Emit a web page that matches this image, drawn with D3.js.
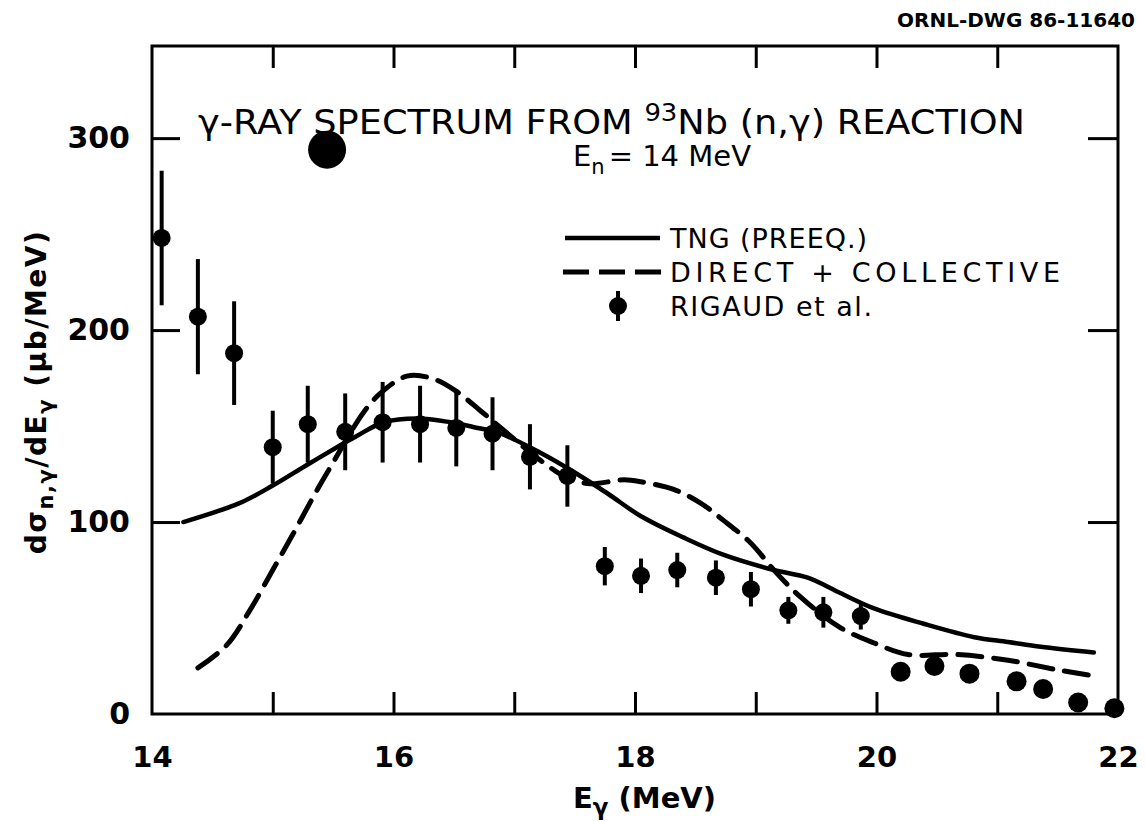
<!DOCTYPE html>
<html><head><meta charset="utf-8">
<script src="https://cdn.jsdelivr.net/npm/d3@7"></script>
<style>body{margin:0;background:#fff}</style>
</head><body><svg id="c" width="1145" height="821"></svg>
<script>
// ---- data ----
const xTicksMinor = [15, 16, 17, 18, 19, 20, 21];
const xTickLabels = [14, 16, 18, 20, 22];
const yTicksMinor = [100, 200, 300];
const yTickLabels = [0, 100, 200, 300];

// RIGAUD et al. experimental points
const expE   = [14.08,14.38,14.68,15.0,15.29,15.6,15.91,16.22,16.52,16.82,17.13,17.44,17.75,18.05,18.35,18.67,18.96,19.27,19.56,19.87,20.2,20.48,20.77,21.16,21.38,21.67,21.97];
const expV   = [248,207,188,139,151,147,152,151,149,146,134,124,77,72,75,71,65,54,53,51,22,25,21,17,13,6,3];
const expErr = [35,30,27,19,20,20,21,20,20,19,17,16,10,9,9,9,9,7,8,7,0,0,0,0,0,0,0];

// TNG (PREEQ.) solid curve
const tngE = [14.26,14.73,15.0,15.29,15.56,15.7,15.92,16.2,16.47,16.66,16.89,17.22,17.47,17.77,18.05,18.4,18.73,19.15,19.43,19.7,19.98,20.39,20.81,21.09,21.36,21.8];
const tngV = [100,110,119,130,140,145,152,154,152,149.5,146,136,127,115,103,92,83,75,71,63,55,47,40,37.5,35,32];

// DIRECT + COLLECTIVE dashed curve
const dcE = [14.38,14.62,14.81,15.0,15.17,15.37,15.5,15.62,15.75,15.89,16.11,16.31,16.5,16.72,16.89,17.22,17.44,17.63,17.91,18.05,18.32,18.54,18.73,18.96,19.15,19.37,19.7,19.98,20.26,20.67,21.09,21.5,21.78];
const dcV = [24,36,54,75,94,117,131,144,157,167,176,175,169,158,149,132,123,120,122,121,117,110,101,89,75,61,45,37,31,31,28,23,20];

// stray blot visible in the original figure
const blotE = [15.45];
const blotV = [294];

// ---- drawing ----
const svg = d3.select("#c");
const FONT = "'DejaVu Sans', 'Liberation Sans', sans-serif";
const L = 152, R = 1118, T = 46, B = 714;
const x = d3.scaleLinear().domain([14, 22]).range([L, R]);
const y = d3.scaleLinear().domain([0, 348]).range([B, T]);

// frame
svg.append("rect").attr("x", L).attr("y", T).attr("width", R - L).attr("height", B - T)
  .attr("fill", "none").attr("stroke", "#000").attr("stroke-width", 3);

function styleTicks(g) {
  g.select(".domain").remove();
  g.selectAll("line").attr("stroke", "#000").attr("stroke-width", 3);
}
svg.append("g").attr("transform", `translate(0,${B})`)
  .call(d3.axisBottom(x).tickValues(xTicksMinor).tickSize(-22).tickFormat(""))
  .call(styleTicks);
svg.append("g").attr("transform", `translate(0,${T})`)
  .call(d3.axisTop(x).tickValues(xTicksMinor).tickSize(-22).tickFormat(""))
  .call(styleTicks);
svg.append("g").attr("transform", `translate(${L},0)`)
  .call(d3.axisLeft(y).tickValues(yTicksMinor).tickSize(-28).tickFormat(""))
  .call(styleTicks);
svg.append("g").attr("transform", `translate(${R},0)`)
  .call(d3.axisRight(y).tickValues(yTicksMinor).tickSize(-30).tickFormat(""))
  .call(styleTicks);

// tick labels
const xl = svg.append("g").attr("transform", `translate(0,${B})`)
  .call(d3.axisBottom(x).tickValues(xTickLabels).tickSize(0).tickPadding(32).tickFormat(d3.format("d")));
xl.select(".domain").remove();
xl.selectAll("text").attr("font-family", FONT).attr("font-size", 29).attr("font-weight", "bold").attr("fill", "#000");
const yl = svg.append("g").attr("transform", `translate(${L},0)`)
  .call(d3.axisLeft(y).tickValues(yTickLabels).tickSize(0).tickPadding(22).tickFormat(d3.format("d")));
yl.select(".domain").remove();
yl.selectAll("text").attr("font-family", FONT).attr("font-size", 30).attr("font-weight", "bold").attr("fill", "#000");

// curves
const line = d3.line().x(d => x(d[0])).y(d => y(d[1])).curve(d3.curveCatmullRom.alpha(0.5));
svg.append("path").datum(tngE.map((e, i) => [e, tngV[i]]))
  .attr("d", line).attr("fill", "none").attr("stroke", "#000").attr("stroke-width", 4.5)
  .attr("stroke-linecap", "round");
svg.append("path").datum(dcE.map((e, i) => [e, dcV[i]]))
  .attr("d", line).attr("fill", "none").attr("stroke", "#000").attr("stroke-width", 5)
  .attr("stroke-dasharray", "24,12").attr("stroke-linecap", "round");

// data points
const pts = expE.map((e, i) => ({ e, v: expV[i], err: expErr[i] }));
svg.append("g").selectAll("line").data(pts.filter(d => d.err > 0)).join("line")
  .attr("x1", d => x(d.e)).attr("x2", d => x(d.e))
  .attr("y1", d => y(d.v - d.err)).attr("y2", d => y(d.v + d.err))
  .attr("stroke", "#000").attr("stroke-width", 4);
svg.append("g").selectAll("circle").data(pts).join("circle")
  .attr("cx", d => x(d.e)).attr("cy", d => y(d.v)).attr("r", d => d.err > 0 ? 9 : 10).attr("fill", "#000");

// blot
svg.append("g").selectAll("circle").data(blotE.map((e, i) => [e, blotV[i]])).join("circle")
  .attr("cx", d => x(d[0])).attr("cy", d => y(d[1])).attr("r", 19).attr("fill", "#000");

// title
const t1 = svg.append("text").attr("x", 198).attr("y", 134).attr("font-family", FONT).attr("font-size", 34)
  .attr("fill", "#000").attr("textLength", 827).attr("lengthAdjust", "spacingAndGlyphs");
t1.append("tspan").text("γ-RAY SPECTRUM FROM ");
t1.append("tspan").attr("dy", -13).attr("font-size", 24).text("93");
t1.append("tspan").attr("dy", 13).text("Nb (n,γ) REACTION");
const t2 = svg.append("text").attr("x", 573).attr("y", 166).attr("font-family", FONT).attr("font-size", 29).attr("fill", "#000");
t2.append("tspan").text("E");
t2.append("tspan").attr("dy", 8).attr("font-size", 21).text("n");
t2.append("tspan").attr("dy", -8).attr("dx", 4).text("= 14 MeV");

// legend
const legY = [238, 272, 306];
svg.append("line").attr("x1", 565).attr("x2", 660).attr("y1", legY[0]).attr("y2", legY[0])
  .attr("stroke", "#000").attr("stroke-width", 4.5);
svg.append("line").attr("x1", 563).attr("x2", 662).attr("y1", legY[1]).attr("y2", legY[1])
  .attr("stroke", "#000").attr("stroke-width", 5).attr("stroke-dasharray", "26,10");
svg.append("line").attr("x1", 618).attr("x2", 618).attr("y1", legY[2] - 15).attr("y2", legY[2] + 15)
  .attr("stroke", "#000").attr("stroke-width", 4);
svg.append("circle").attr("cx", 618).attr("cy", legY[2]).attr("r", 9).attr("fill", "#000");
const legText = ["TNG (PREEQ.)", "DIRECT + COLLECTIVE", "RIGAUD et al."];
const legLen = [197, 390, 202];
svg.append("g").selectAll("text").data(legText).join("text")
  .attr("x", 670).attr("y", (d, i) => legY[i] + 10)
  .attr("font-family", FONT).attr("font-size", 27).attr("fill", "#000")
  .attr("textLength", (d, i) => legLen[i]).attr("lengthAdjust", "spacing")
  .text(d => d);

// axis titles
const xt = svg.append("text").attr("x", 573).attr("y", 808).attr("font-family", FONT)
  .attr("font-size", 29).attr("font-weight", "bold").attr("fill", "#000");
xt.append("tspan").text("E");
xt.append("tspan").attr("dy", 7).attr("font-size", 23).text("γ");
xt.append("tspan").attr("dy", -7).text(" (MeV)");

const yt = svg.append("text").attr("transform", "translate(46,392) rotate(-90)")
  .attr("text-anchor", "middle").attr("font-family", FONT)
  .attr("font-size", 28).attr("font-weight", "bold").attr("fill", "#000")
  .attr("letter-spacing", 1.5);
yt.append("tspan").text("dσ");
yt.append("tspan").attr("dy", 7).attr("font-size", 21).text("n,γ");
yt.append("tspan").attr("dy", -7).text("/dE");
yt.append("tspan").attr("dy", 7).attr("font-size", 21).text("γ");
yt.append("tspan").attr("dy", -7).text(" (μb/MeV)");

// drawing number
svg.append("text").attr("x", 1135).attr("y", 27).attr("text-anchor", "end")
  .attr("font-family", FONT).attr("font-size", 20).attr("font-weight", "bold").attr("fill", "#000")
  .text("ORNL-DWG 86-11640");
</script>
</body></html>
